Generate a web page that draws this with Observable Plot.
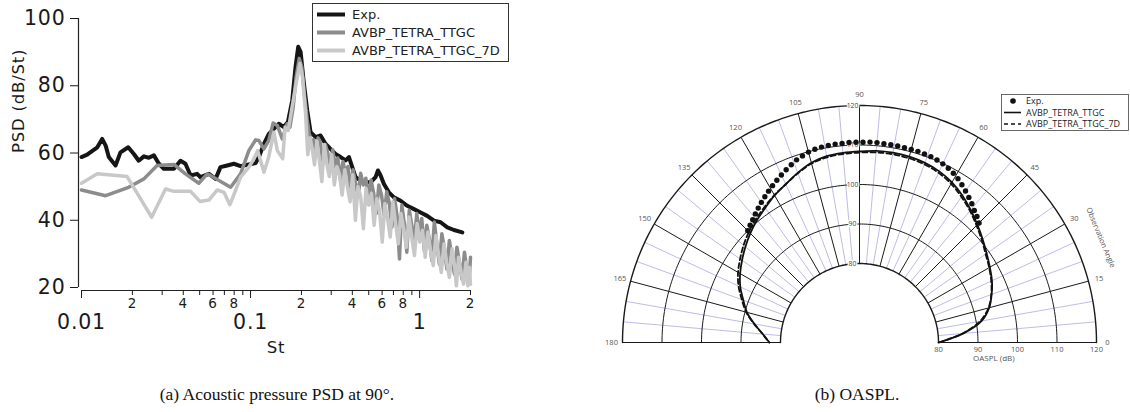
<!DOCTYPE html>
<html><head><meta charset="utf-8">
<script src="https://cdn.jsdelivr.net/npm/d3@7"></script>
<script src="https://cdn.jsdelivr.net/npm/@observablehq/plot@0.6"></script>
<style>
html,body{margin:0;padding:0;background:#fff;}
body{width:1130px;height:412px;position:relative;overflow:hidden;}
#left,#right{position:absolute;top:0;}
#left{left:0;} #right{left:565px;}
.cap{position:absolute;top:383px;line-height:22px;font-family:"Liberation Serif","Times New Roman",serif;font-size:17.5px;color:#111;white-space:nowrap;transform:translateX(-50%);}
.leg{position:absolute;overflow:visible;}
</style></head><body>
<div id="left"></div><div id="right"></div>
<div class="cap" style="left:277px">(a) Acoustic pressure PSD at 90°.</div>
<div class="cap" style="left:857px">(b) OASPL.</div>
<script>
// ---------- Panel (a): PSD data ----------
const psdNames = ["Exp.", "AVBP_TETRA_TTGC", "AVBP_TETRA_TTGC_7D"];
const psdColors = ["#151515", "#8c8c8c", "#c8c8c8"];
const expSt = [0.01,0.0108,0.0124,0.01325,0.0139,0.0145,0.0159,0.0170,0.0189,0.0204,0.0218,0.0234,0.0250,0.0268,0.0287,0.0307,0.0352,0.0385,0.0412,0.0442,0.0483,0.0506,0.0567,0.0621,0.0664,0.0728,0.0797,0.0873,0.0977,0.1071,0.112,0.120,0.1283,0.1374,0.147,0.1574,0.1663,0.1764,0.1845,0.1914,0.1977,0.2069,0.2163,0.2264,0.2425,0.2595,0.278,0.297,0.318,0.341,0.365,0.382,0.3996,0.418,0.448,0.479,0.513,0.549,0.567,0.588,0.615,0.658,0.705,0.772,0.845,0.926,1.014,1.109,1.216,1.331,1.458,1.596,1.789];
const expPsd = [58.8,59.5,61.7,64.2,62.2,58.8,56.3,60.2,61.7,59.7,57.7,59.0,58.6,59.3,56.8,55.3,55.3,57.7,56.8,53.3,53.8,52.8,53.8,52.3,55.8,56.3,56.8,56.1,56.6,57.0,58.8,62.7,65.7,67.2,68.7,67.7,69.2,75.6,85.6,91.6,90.1,80.6,72.7,66.2,64.7,65.2,62.7,61.2,59.7,58.8,57.8,58.8,55.8,52.8,51.8,51.3,51.3,52.8,54.8,53.3,50.8,48.3,46.8,45.8,44.3,43.3,42.3,41.3,39.9,39.4,37.9,37.1,36.4];
const ttgcSt = [0.01,0.0139,0.019,0.0234,0.028,0.0352,0.0412,0.0494,0.0555,0.0762,0.0873,0.0977,0.1071,0.112,0.120,0.128,0.136,0.144,0.154,0.1647,0.171,0.1788,0.186,0.194,0.201,0.208,0.2163,
  0.222,0.229,0.236,0.243,0.251,0.259,0.268,0.277,0.286,0.296,0.306,0.317,0.328,0.340,0.352,0.364,0.377,0.390,0.404,0.418,0.433,0.448,0.464,0.481,0.498,0.516,0.535,0.554,0.574,0.595,0.617,0.639,0.662,0.686,0.711,0.737,0.760,0.785,0.812,0.840,0.869,0.899,0.930,0.962,0.995,1.030,1.066,1.103,1.141,1.181,1.222,1.264,1.308,1.354,1.401,1.450,1.500,1.552,1.606,1.662,1.720,1.780,1.842,1.906,1.960,2.000];
const ttgcPsd = [49.0,47.3,49.8,52.3,56.3,56.6,53.8,51.0,53.8,49.8,53.8,60.7,63.9,63.7,61.2,63.7,68.9,68.2,64.2,68.7,67.7,73.7,82.6,88.1,85.6,77.6,70.0,
  66.0,62.5,64.0,59.0,64.5,63.0,57.0,62.5,60.0,55.5,61.0,56.0,58.5,52.0,57.5,54.0,56.0,49.0,55.0,51.0,47.0,54.0,50.5,52.5,46.0,52.0,48.0,42.0,50.5,47.5,41.5,48.5,45.0,38.0,46.5,41.0,28.5,44.5,39.0,30.5,43.0,38.5,33.5,42.0,36.0,40.5,31.0,38.5,34.5,28.0,39.5,33.0,27.0,36.0,31.5,25.5,34.0,29.0,24.0,32.0,27.5,22.5,30.5,25.0,21.5,29.0];
const d7St = [0.01,0.0124,0.0186,0.0209,0.026,0.0314,0.0352,0.0442,0.0502,0.0567,0.0636,0.0697,0.0754,0.0817,0.0873,0.0977,0.104,0.1102,0.120,0.128,0.1374,0.144,0.155,0.160,0.167,0.176,0.186,0.1958,0.203,0.2116,
  0.218,0.225,0.232,0.239,0.247,0.255,0.264,0.273,0.282,0.292,0.302,0.313,0.324,0.336,0.348,0.361,0.374,0.388,0.402,0.417,0.432,0.448,0.465,0.482,0.500,0.519,0.538,0.558,0.579,0.601,0.623,0.646,0.670,0.695,0.721,0.748,0.776,0.805,0.835,0.866,0.898,0.932,0.967,1.003,1.040,1.079,1.119,1.161,1.204,1.249,1.296,1.344,1.394,1.446,1.500,1.556,1.614,1.650,1.700,1.760,1.820,1.880,1.930,1.970,2.000];
const d7Psd = [51.0,53.8,53.0,48.8,40.9,49.3,48.6,48.6,45.6,46.0,49.0,48.3,44.6,49.0,52.8,55.8,58.0,60.7,54.3,58.8,66.2,60.7,58.3,67.7,66.7,73.7,80.6,86.6,82.6,71.7,
  59.5,64.5,61.0,56.5,63.5,58.0,51.5,62.5,57.0,53.0,59.5,50.5,56.0,53.5,47.5,55.0,50.0,45.5,53.5,40.0,50.0,47.0,37.5,49.5,44.5,48.0,38.5,46.5,43.0,33.5,45.0,40.5,35.0,45.5,39.0,33.0,42.0,37.5,32.0,41.0,35.0,29.5,39.0,33.5,37.0,29.0,36.5,31.0,26.5,35.5,29.5,24.5,33.0,27.5,23.0,31.5,26.0,20.5,29.0,24.5,21.0,27.5,20.5,26.0,21.0];
const psdYTicks = [20,40,60,80,100];
const stMajor = [0.01,0.1,1];
const stMinor = [0.02,0.03,0.04,0.05,0.06,0.07,0.08,0.09,0.2,0.3,0.4,0.5,0.6,0.7,0.8,0.9,2];
const stMinorLabels = [0.02,0.04,0.06,0.08,0.2,0.4,0.6,0.8,2];

// ---------- Panel (b): OASPL data ----------
const oasplNames = ["Exp.", "AVBP_TETRA_TTGC", "AVBP_TETRA_TTGC_7D"];
const expAngle = [45,47,49,51,53,55,57,59,61,63,65,67,69,71,73,75,77,79,81,83,85,87,89,91,93,95,97,99,101,103,105,107,109,111,113,115,117,119,121,123,125,127,129,131,133,135];
const expOaspl = [102.8,103.6,104.3,105.2,106.0,106.8,107.6,108.4,109.0,109.5,109.9,110.2,110.4,110.5,110.6,110.6,110.6,110.7,110.7,110.7,110.8,110.8,110.7,110.7,110.7,110.6,110.6,110.5,110.4,110.2,109.9,109.4,108.9,108.2,107.5,106.8,106.1,105.4,104.7,104.0,103.3,102.6,101.9,101.2,100.6,100.0];
const simAngle = [0,5,10,15,20,25,30,35,40,45,50,55,60,65,70,75,80,85,90,95,100,105,110,115,120,125,130,135,140,145,150,155,160,165,170,175,180];
const ttgcOaspl = [80.0,86.4,91.4,94.0,95.6,97.0,98.1,99.3,100.7,102.2,103.8,105.4,106.8,107.8,108.4,108.7,108.8,108.7,108.4,108.2,107.9,107.1,105.7,104.2,103.0,101.6,100.4,99.1,97.7,96.3,94.9,93.3,91.3,89.5,87.0,84.6,82.8];
const d7Oaspl = [80.2,86.2,91.0,93.8,95.5,96.8,97.9,99.0,100.4,101.9,103.5,105.0,106.4,107.4,108.0,108.3,108.4,108.3,108.1,107.9,107.6,106.9,105.6,104.2,103.1,101.9,100.8,99.6,98.3,96.9,95.5,93.8,91.7,89.7,87.1,84.6,82.9];
const angleTicks = [0,15,30,45,60,75,90,105,120,135,150,165,180];
const oasplTicks = [80,90,100,110,120];

// ---------- Panel (a) ----------
const zip = (xs, ys) => xs.map((x, i) => ({st: x, v: ys[i]}));
const mant = d => Math.round(d / Math.pow(10, Math.floor(Math.log10(d) + 1e-9)));
const left = Plot.plot({
  width: 540, height: 370,
  marginLeft: 81, marginRight: 70, marginTop: 18, marginBottom: 83,
  style: {fontFamily: "DejaVu Sans, sans-serif", color: "#1a1a1a", background: "transparent", overflow: "visible", letterSpacing: "0.8px"},
  x: {type: "log", domain: [0.01, 2]},
  y: {domain: [20, 100]},
  marks: [
    Plot.ruleX([0.01], {y1: 20, y2: 100, dx: -3, stroke: "#222", strokeWidth: 1.2}),
    Plot.ruleY([20], {x1: 0.01, x2: 2, dy: 3, stroke: "#222", strokeWidth: 1.2}),
    Plot.axisY(psdYTicks, {anchor: "left", tickSize: 8, tickPadding: 5, dx: -3, fontSize: 20.5, label: null, tickFormat: d => String(d)}),
    Plot.axisX(stMinor, {anchor: "bottom", tickSize: 5, dy: 3, label: null, tickFormat: () => ""}),
    Plot.axisX(stMajor, {anchor: "bottom", tickSize: 8, dy: 3, label: null, tickFormat: () => ""}),
    Plot.text(stMinorLabels, {x: d => d, text: d => String(mant(d)), frameAnchor: "bottom", dy: 20, fontSize: 13.5, fill: "#1a1a1a"}),
    Plot.text(stMajor, {x: d => d, text: d => String(d), frameAnchor: "bottom", dy: 41, fontSize: 20.5, fill: "#1a1a1a"}),
    Plot.text(["St"], {frameAnchor: "bottom", dy: 65, fontSize: 16.5}),
    Plot.text(["PSD (dB/St)"], {frameAnchor: "left", dx: -63, rotate: -90, fontSize: 16.5}),
    Plot.line(zip(expSt, expPsd), {x: "st", y: "v", stroke: psdColors[0], strokeWidth: 4, strokeLinejoin: "round"}),
    Plot.line(zip(ttgcSt, ttgcPsd), {x: "st", y: "v", stroke: psdColors[1], strokeWidth: 3.5, strokeLinejoin: "round"}),
    Plot.line(zip(d7St, d7Psd), {x: "st", y: "v", stroke: psdColors[2], strokeWidth: 3.5, strokeLinejoin: "round"})
  ]
});
document.getElementById("left").appendChild(left);

// legend (a)
{
  const svg = d3.select("body").append("svg").attr("class", "leg")
    .style("left", "312px").style("top", "3px").attr("width", 198).attr("height", 60);
  svg.append("rect").attr("x", 0.5).attr("y", 0.5).attr("width", 196).attr("height", 58)
    .attr("fill", "#fff").attr("stroke", "#333").attr("stroke-width", 1);
  psdNames.forEach((n, i) => {
    const y = 11.5 + i * 18;
    svg.append("line").attr("x1", 5).attr("x2", 33).attr("y1", y).attr("y2", y)
      .attr("stroke", psdColors[i]).attr("stroke-width", 4);
    svg.append("text").attr("x", 40).attr("y", y).attr("dy", "0.36em")
      .attr("font-family", "DejaVu Sans, sans-serif").attr("font-size", 13).attr("fill", "#222").text(n);
  });
}

// ---------- Panel (b) ----------
const K = 3.95, R0 = 60;
const rad = dB => (dB - R0) * K;
const px = (dB, a) => rad(dB) * Math.cos(a * Math.PI / 180);
const py = (dB, a) => rad(dB) * Math.sin(a * Math.PI / 180);
const arcAngles = d3.range(0, 180.5, 1);
const arcPts = oasplTicks.flatMap(r => arcAngles.map(a => ({r, a})));
const fineAngles = d3.range(0, 181, 5).filter(a => a % 15 !== 0);
const expPts = expAngle.map((a, i) => ({a, v: expOaspl[i]}));
const ttgcPts = simAngle.map((a, i) => ({a, v: ttgcOaspl[i]}));
const d7Pts = simAngle.map((a, i) => ({a, v: d7Oaspl[i]}));
const LR = 248;
const rMin = oasplTicks[0], rMax = oasplTicks[oasplTicks.length - 1];
const pf = "Open Sans, DejaVu Sans, sans-serif";

const right = Plot.plot({
  width: 565, height: 375, margin: 0,
  style: {fontFamily: pf, background: "transparent", overflow: "visible"},
  x: {domain: [-294, 271], axis: null},
  y: {domain: [-33, 342], axis: null},
  marks: [
    Plot.link(fineAngles, {x1: a => px(rMin, a), y1: a => py(rMin, a), x2: a => px(rMax, a), y2: a => py(rMax, a), stroke: "#b4b4e2", strokeWidth: 0.9}),
    Plot.line(arcPts.filter(d => d.r > rMin && d.r < rMax), {x: d => px(d.r, d.a), y: d => py(d.r, d.a), z: "r", stroke: "#1a1a1a", strokeWidth: 1}),
    Plot.line(arcPts.filter(d => d.r === rMin || d.r === rMax), {x: d => px(d.r, d.a), y: d => py(d.r, d.a), z: "r", stroke: "#1a1a1a", strokeWidth: 1.4}),
    Plot.link(angleTicks, {x1: a => px(rMin, a), y1: a => py(rMin, a), x2: a => px(rMax, a), y2: a => py(rMax, a), stroke: "#1a1a1a", strokeWidth: 1}),
    Plot.text(angleTicks, {x: a => LR * Math.cos(a * Math.PI / 180), y: a => LR * Math.sin(a * Math.PI / 180), text: d => String(d), fontSize: 7.5, fill: "#555"}),
    Plot.link(oasplTicks, {x1: 0, x2: 0, dx: -14, y1: d => rad(d), y2: d => rad(d), stroke: "#1a1a1a", strokeWidth: 1}),
    Plot.text(oasplTicks, {x: 0, y: d => rad(d), dx: -7, text: d => String(d), fontSize: 6.8, fill: "#444", stroke: "white", strokeWidth: 2.5}),
    Plot.text(oasplTicks, {x: d => rad(d), y: 0, dy: 7, text: d => String(d), fontSize: 7.5, fill: "#555"}),
    Plot.text(["OASPL (dB)"], {x: rad(94), y: 0, dy: 16, fontSize: 8, fill: "#555"}),
    Plot.text(["Observation Angle"], {x: 263 * Math.cos(23.5 * Math.PI / 180), y: 263 * Math.sin(23.5 * Math.PI / 180), rotate: 67.5, fontSize: 7.5, fill: "#555"}),
    Plot.line(ttgcPts, {x: d => px(d.v, d.a), y: d => py(d.v, d.a), curve: "catmull-rom", stroke: "#111", strokeWidth: 1.8}),
    Plot.line(d7Pts, {x: d => px(d.v, d.a), y: d => py(d.v, d.a), curve: "catmull-rom", stroke: "#111", strokeWidth: 1.8, strokeDasharray: "5,3"}),
    Plot.dot(expPts, {x: d => px(d.v, d.a), y: d => py(d.v, d.a), r: 2.7, fill: "#111", stroke: "none"})
  ]
});
document.getElementById("right").appendChild(right);

// legend (b)
{
  const svg = d3.select("body").append("svg").attr("class", "leg")
    .style("left", "1001px").style("top", "94px").attr("width", 129).attr("height", 38);
  svg.append("rect").attr("x", 0.5).attr("y", 0.5).attr("width", 127).attr("height", 36)
    .attr("fill", "#fff").attr("stroke", "#444").attr("stroke-width", 0.8);
  oasplNames.forEach((n, i) => {
    const y = 7 + i * 11.5;
    if (i === 0) svg.append("circle").attr("cx", 12).attr("cy", y).attr("r", 2.8).attr("fill", "#111");
    else svg.append("line").attr("x1", 3).attr("x2", 20).attr("y1", y).attr("y2", y)
      .attr("stroke", "#111").attr("stroke-width", 1.6).attr("stroke-dasharray", i === 2 ? "4,3" : null);
    svg.append("text").attr("x", 25).attr("y", y).attr("dy", "0.36em")
      .attr("font-family", pf).attr("font-size", 9).attr("fill", "#222").text(n);
  });
}
</script>
</body></html>
